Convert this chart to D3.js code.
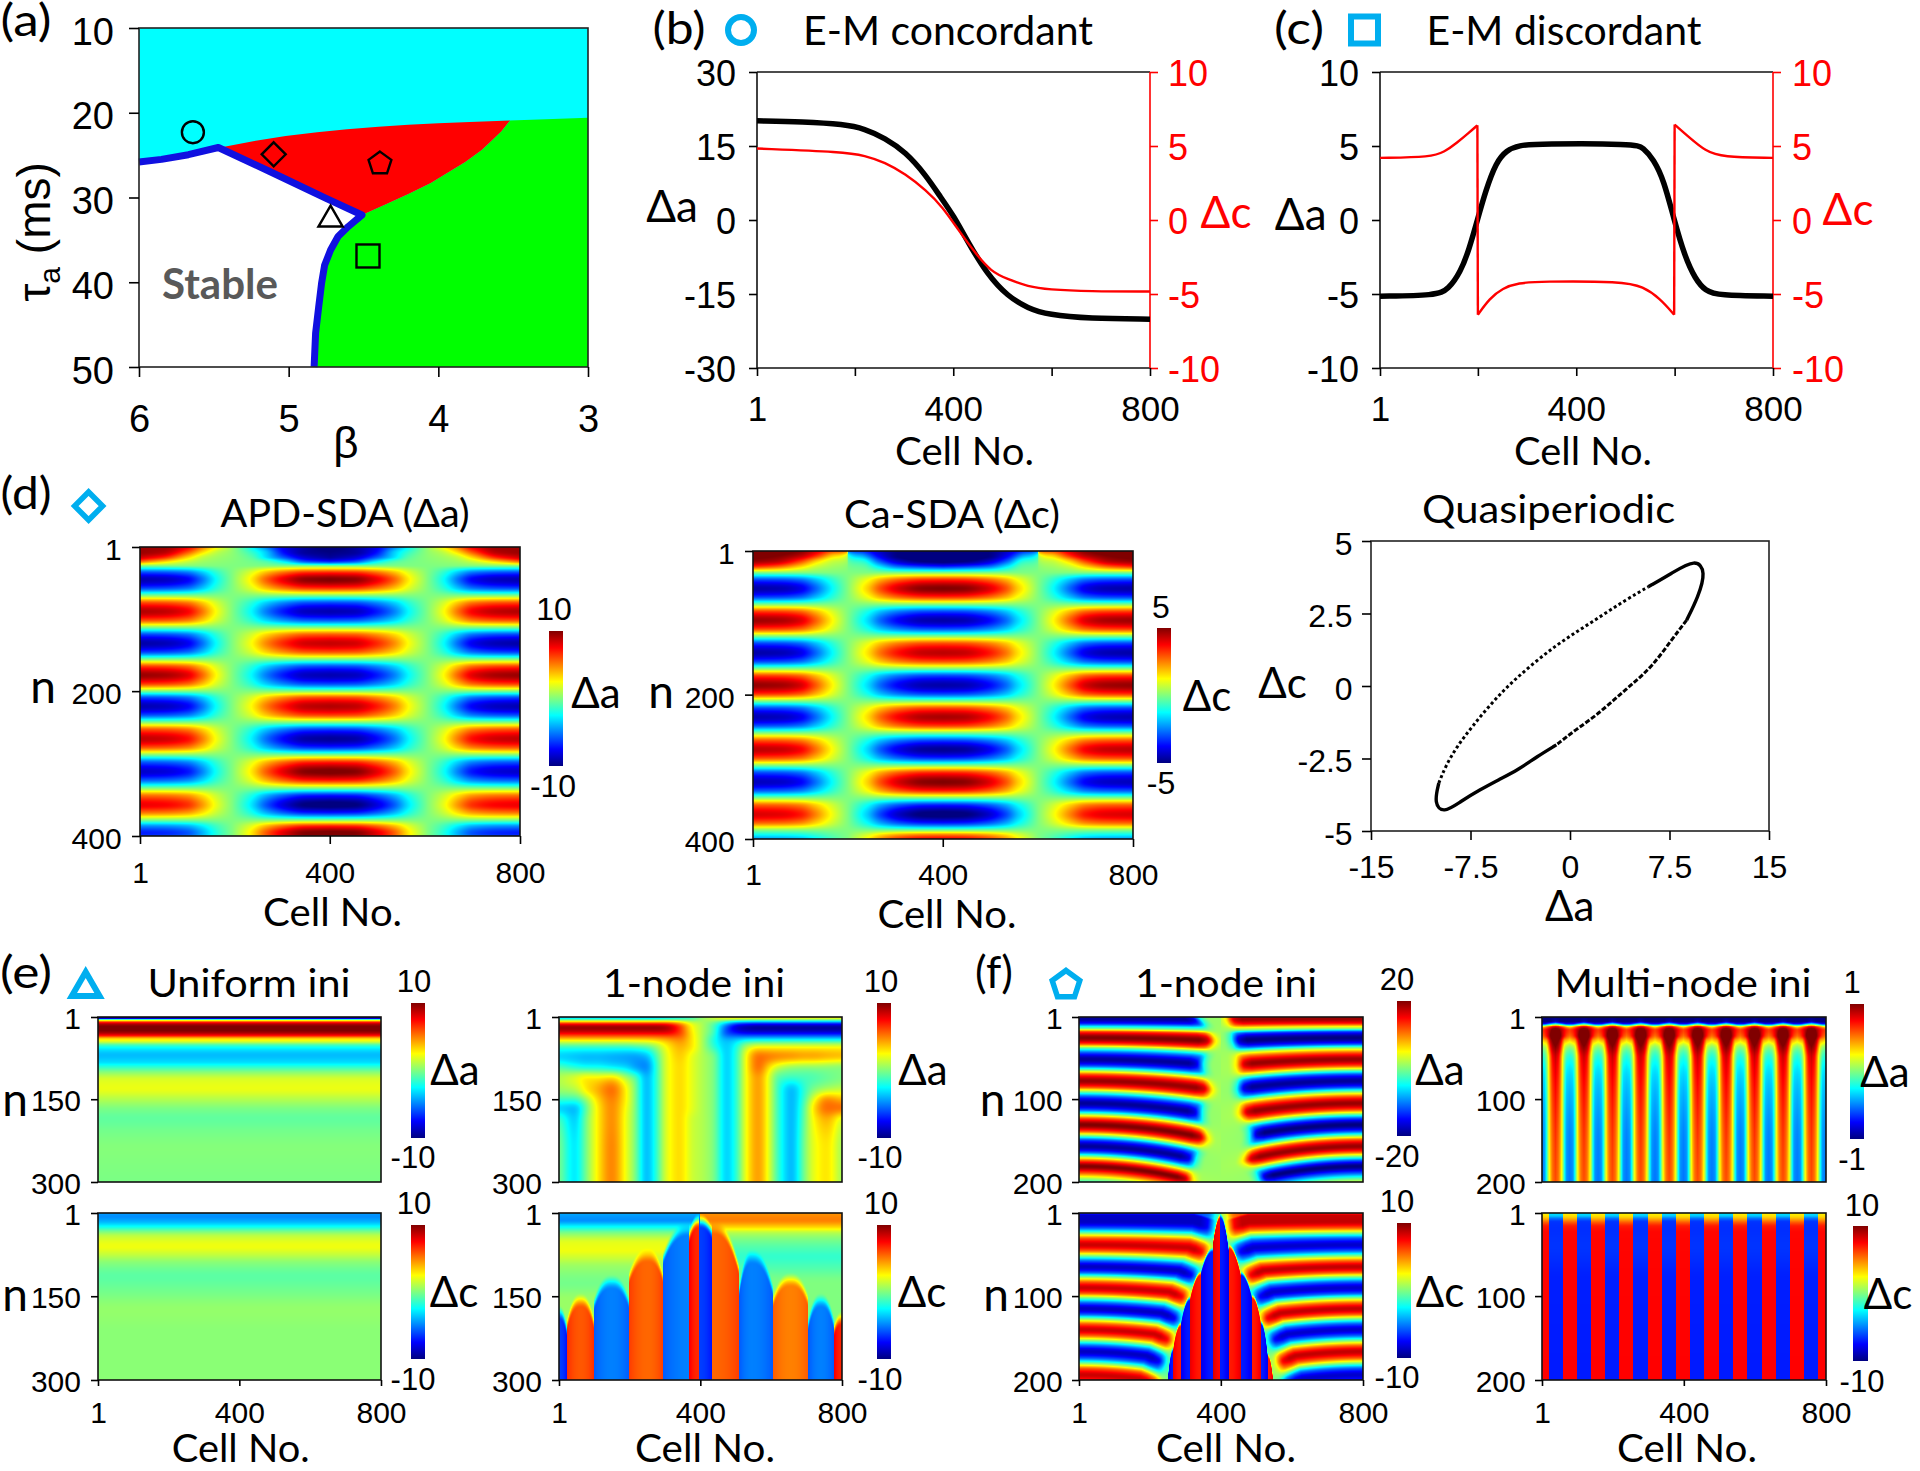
<!DOCTYPE html>
<html><head><meta charset="utf-8">
<style>html,body{margin:0;background:#fff}svg{display:block}</style>
<script src="https://cdn.jsdelivr.net/npm/d3@7"></script></head>
<body><svg id="c" width="1920" height="1471" xmlns="http://www.w3.org/2000/svg"></svg>
<script>
// ---------- (a) phase diagram, [beta, tau_a] ----------
const edgeLeft=[[6,25.8],[5.85,25.5],[5.67,24.95],[5.47,24.1]];
const edgeUpper=[[5.47,24.1],[5.13,26.9],[4.75,30.1],[4.51,32.07]];
const edgeLower=[[4.51,32.07],[4.6,33.4],[4.67,34.6],[4.72,36.2],[4.76,38],[4.78,40.1],[4.8,43],[4.82,46],[4.83,50]];
const edgeRedTop=[[5.43,24],[5.22,23.3],[5.02,22.75],[4.81,22.3],[4.61,21.95],[4.4,21.65],[4.2,21.42],[4,21.25],[3.79,21.1],[3.52,20.9]];
const edgeRedGreen=[[3.52,20.9],[3.58,22.2],[3.65,23.4],[3.71,24.4],[3.82,25.8],[3.93,27],[4.05,28.3],[4.2,29.6],[4.35,30.8],[4.51,32.07]];
const cornerGreen=[[3,20.6],[3,50]], cornerStable=[[6,50]];
const phaseMarkers=[["circle",5.64,22.3,11],["diamond",5.1,24.9,12],["pentagon",4.39,26,12],["triangle",4.72,32.6,14],["square",4.47,36.9,11.5]];
// ---------- (b) (c) profiles, [cell, value] ----------
const concordantA=[[1,20.1],[95,19.95],[178,19.4],[220,18.5],[261,16.6],[303,13.8],[345,9],[375,4.5],[400,1],[430,-4.5],[469,-11],[511,-15.5],[552,-17.9],[593,-19.2],[676,-20],[800,-20.1]];
const concordantC=[[1,4.83],[178,4.6],[220,4.35],[261,3.9],[303,3.1],[345,2],[378,.9],[411,-.7],[444,-2.2],[477,-3.5],[511,-4],[552,-4.5],[593,-4.7],[676,-4.83],[800,-4.83]];
const discordantA=[[1,-5.15],[115,-5.1],[140,-4.7],[165,-3.5],[182,-2],[199,0],[216,2],[237,3.9],[258,4.7],[283,5.05],[325,5.15],[519,5.15],[536,4.9],[557,4.1],[578,2.7],[599,0],[620,-2.4],[642,-4],[663,-4.8],[688,-5.1],[800,-5.15]];
const discordantC=[[1,4.2],[106,4.25],[132,4.6],[157,5.2],[182,5.9],[199,6.4],[200,-6.4],[224,-5.3],[250,-4.6],[283,-4.25],[325,-4.15],[494,-4.15],[536,-4.5],[570,-5.3],[599,-6.4],[600,6.45],[629,5.6],[663,4.65],[696,4.25],[800,4.2]];
// ---------- (d) quasiperiodic loop, [da, dc] ----------
const loopSolidTop=[[5.9,3.42],[7.64,3.88],[9.5,4.4],[10.25,3.95],[9.66,3.07],[8.79,2.27]];
const loopDashLower=[[8.79,2.27],[7.64,1.58],[6.19,.67],[4.75,.09],[3.31,-.48],[1.86,-1.06],[.42,-1.51],[-1.03,-2.03]];
const loopSolidBottom=[[-1.03,-2.03],[-2.47,-2.43],[-3.91,-2.89],[-5.36,-3.23],[-6.8,-3.58],[-8.24,-3.98],[-9.55,-4.4],[-10.25,-4.05],[-9.89,-3.35]];
const loopDotUpper=[[-9.89,-3.35],[-9.4,-2.78],[-8.53,-2.09],[-7.38,-1.4],[-5.93,-.6],[-4.49,.09],[-2.76,.78],[-1.03,1.41],[.71,1.93],[2.44,2.44],[4.17,2.96],[5.9,3.42]];
// ---------- (d) heat maps ----------
const d1TopCells=[1,50,100,135,165,195,235,265,305,350,400];
const d1TopN=[1,8,15,21,27];
const d1Top=[[9.5,9.5,8,5,2.5,.5,-2.5,-5,-8,-9.5,-10.5],[9.5,9,6,3,1.2,.3,-1.5,-3.5,-7.5,-9.5,-10],[8.5,7,3.5,1.3,.6,.2,-.8,-3,-6,-8.5,-9.5],[5.5,3.5,1.5,.6,.3,.1,-.3,-1,-3,-6,-7],[0,0,0,0,0,0,0,0,0,0,0]];
const d1ProfileCells=[1,50,100,130,160,195,235,265,305,350,400];
const d1Profile=[1,.97,.85,.6,.28,0,-.28,-.55,-.8,-.97,-1];
const d1N=[27,37,46,57,68,79,90,101,112,123,134,145,156,167,178,189,200,210,221,232,243,254,266,277,288,299,311,322,334,345,357,367,378,387,396,400];
const d1Edge=[0,-6.5,-9,-6.5,0,6.5,9,6.5,0,-6.6,-9.2,-6.7,0,6.8,9.5,6.8,0,-6.5,-9,-6.4,0,6.3,8.7,6.2,0,-6.1,-8.5,-6,0,5.6,7.8,5.5,0,-5,-7,-6.5];
const d1Centre=[0,7.2,10,7,0,-6.5,-9,-6.3,0,6.2,8.6,6.3,0,-6.5,-9,-6.5,0,6.5,9,6.7,0,-6.8,-9.5,-7,0,7.3,10.2,7.5,0,-7.5,-10.4,-7.5,0,7.3,10.3,10.2];
const d2TopCells=[1,50,100,135,165,199,201,235,265,305,350,400];
const d2TopN=[1,8,15,22,31];
const d2Top=[[5.3,5.3,5,4.2,3.2,2.6,-2.6,-3.5,-4.3,-5,-5.3,-5.5],[5.2,5,4.4,3.2,1.8,.7,-.9,-2.2,-3.8,-5,-5.4,-5.4],[4.8,4.5,3.2,1.7,.8,.3,-.3,-1,-2.8,-4.3,-5,-5.2],[3.5,3,1.8,.8,.4,.1,-.1,-.4,-1.5,-2.8,-3.3,-3.6],[0,0,0,0,0,0,0,0,0,0,0,0]];
const d2ProfileCells=[1,60,100,131,165,200,230,243,269,312,360,400];
const d2Profile=[1,.97,.87,.62,.3,0,-.25,-.35,-.6,-.85,-.98,-1];
const d2N=[31,42,53,64,75,86,97,108,119,130,142,153,164,175,187,198,209,220,231,242,253,265,276,287,298,309,321,332,343,354,366,377,388,394,400];
const d2Edge=[0,-3.3,-4.6,-3.3,0,3.4,4.7,3.4,0,-3.3,-4.6,-3.3,0,3.4,4.8,3.5,0,-3.3,-4.5,-3.2,0,3.2,4.4,3.2,0,-3.2,-4.4,-3.1,0,3,4.1,2.9,0,-1.2,-2.3];
const d2Centre=[0,3.6,5,3.5,0,-3.3,-4.6,-3.2,0,3.2,4.4,3.2,0,-3.3,-4.6,-3.3,0,3.3,4.6,3.4,0,-3.4,-4.8,-3.5,0,3.6,5,3.7,0,-3.7,-5.2,-3.7,0,2.5,4];
// ---------- (e) uniform ini ----------
const e1AN=[1,3,5,7,9,12,16,22,28,34,40,46,52,60,70,82,92,102,115,130,150,170,185,210,240,270,300];
const e1A=[-10,-9.5,-3,2,5,8,9.6,10.3,9.6,7.5,3.5,1.5,-1.2,-3,-3.8,-3.2,-1.5,.3,1.8,2.1,1,-.2,-.6,-.2,.1,0,-.1];
const e1CN=[1,7,16,25,34,43,61,73,91,115,139,175,216,300];
const e1C=[-4.4,-4.7,-4,-2.4,-.2,1.3,2.2,1.5,.1,-.7,-.3,.4,.2,.2];
// ---------- (e) 1-node ini, da ----------
const e2ACells=[1,46,79,107,150,192,216,248,277,305,343,376,404,437,474,507,526,564,597,620,658,695,719,757,800];
const e2AN=[1,6,12,22,30,40,55,73,91,112,133,151,166,187,241,300];
const e2A=[
[-9,-9,-9,-9,-9,-9,-9,-9,-8.5,-8,-6,-3,0,3,6,7,7,7,7,7,7,7,7,7,7],
[-2,-2,-2,-2,-2,-2,-2,-2,-2,-1.5,-1,-.5,.5,1,1.5,2,2,2,2,2,2,2,2,2,2],
[9,9,9,9,9,9,9,9,9,8.5,6,2.5,1,-1,-5,-8,-8.5,-9,-9,-9,-9,-9,-9,-9,-9],
[10,10,10,10,10,10,10,10,10,9.5,6.5,2.5,1,-1,-6,-9,-9.5,-10,-10,-10,-10,-10,-10,-10,-10],
[8,8,8,8,8,8,8,8,8,8,6.5,3,1,-1,-6.5,-7.5,-8,-8,-8,-8,-8,-8,-8,-8,-8],
[4,4,4,4,4,4,4,4,4.2,4.5,5,3,1,-2,-4,-3.8,-3.5,-3.5,-3.5,-3.5,-3.5,-3.5,-3.5,-3.5,-3.5],
[-1.5,-1.5,-1.5,-1.5,-1.5,-1.5,-1.2,-.8,.5,2.5,4,3,1,-1.5,-3.5,-1.5,.8,2.5,2.5,2.5,2.5,2.5,2.5,2.5,2.5],
[-3.5,-3.8,-4,-4,-4.2,-4.4,-4.5,-4,-1,2,3.5,2,1,0,-3.5,-1,2,5.5,5.2,5,4.8,4.5,4.5,4.2,4],
[-1,-2,-2.5,-2.5,-3,-3.5,-4.5,-5,-1.5,2,3.2,2,1,0,-3.5,-1,2,5.5,3,1.5,.5,.3,.3,.2,0],
[1,2,3,3,3.5,1,-.5,-4,-1.5,2,3.2,2,1,0,-3.5,-1,2,4.5,1.5,-1,-1.5,-1.2,-1,-.5,0],
[.5,1,3,4,5.5,2.5,0,-4,-1.5,2,3.2,2,1,0,-3.5,-1,2,4.5,1.5,-1.5,-4,-1.5,0,1,1.5],
[-1.5,-1.5,.5,3,5,2.5,0,-4,-1.5,2,3.2,2,1,0,-3.5,-1,2,4.5,1.5,-1.5,-4,-1,2,5,4],
[-3.5,-4,-.5,2.5,4.8,2.2,0,-4,-1.5,2,3.2,2,1,0,-3.5,-1,2,4.5,1.5,-1.5,-4,-.5,3,5.5,5.5],
[-1,-3.5,0,2.5,4.8,2,0,-4,-1.5,2,3.2,1.5,1,0,-3.5,-1,2,4.5,1.5,-1.5,-4,-.3,2.5,4,1.5],
[0,-3,0,2.5,5,2,0,-4,-1.5,2,3.2,1.5,1,0,-3.5,-1,2,4.5,1.5,-1.5,-4,0,2,3,.5],
[0,-3,0,2.5,5,2,0,-4,-1.5,2,3.2,1.5,1,0,-3.5,-1,2,4.5,1.5,-1.5,-4,0,2,3,.5]];
// ---------- (e) 1-node ini, dc: background by side + domes [from,to,apexCell,apexN,edgeN,value] ----------
const e2CN=[1,13,25,37,55,67,79,97,127,157,187,300];
const e2CLeft=[-4.2,-4.7,-2.6,0,2,2.2,1.6,.5,-.2,.5,.5,.5];
const e2CRight=[4.6,5,3.5,1,-.5,-1.1,-1.5,-1,0,0,0,0];
const e2CDomes=[[1,24,1,165,200,-6.3],[24,100,62,143,185,5.8],[100,200,150,110,150,-5],[200,294,252,62,100,5.5],[294,368,368,15,70,-5],[368,397,397,1,32,6.7],[397,434,397,1,25,-6.3],[434,510,434,12,90,5.5],[510,605,545,65,125,-5],[605,705,655,106,145,5],[705,777,740,143,185,-5],[777,800,800,175,198,6.8]];
// ---------- (f) 1-node ini ----------
const f1AN=[1,3,8,13,15,19,26,33,38,45,52,59,65,71,78,85,91,98,105,112,118,124,131,138,144,150,157,163,169,175,181,188,197,200];
const f1A=[-16,-19,-15,-4,0,13,20,13,0,-13,-19,-13,0,13,19,13,0,-13,-19,-13,0,13,20,13,0,-13,-19,-13,0,13,20,13,0,-3];
const f1TipN=[1,13,26,39,52,65,78,91,105,118,131,144,157,169,181,200];
const f1TipLeft=[60,32,16,30,46,34,24,36,50,42,36,50,68,72,78,86];
const f1TipRight=[12,20,28,35,42,42,42,46,50,64,78,70,62,82,102,112];
const f1FadeDist=[-100,-25,0,12,24,45];
const f1Fade=[0,.02,.25,.6,.87,1];
const f1CN=[1,4,11,18,25,32,39,45,52,59,65,71,77,84,90,96,102,109,115,121,127,134,140,146,153,160,166,173,180,187,194,200];
const f1C=[-6,-8.5,-8.7,-6.2,0,6.2,8.5,6.2,0,-6.2,-8.7,-6.2,0,6.2,8.5,6.2,0,-6.2,-8.7,-6.2,0,6.2,8.5,6.2,0,-6.2,-8.7,-6.2,0,6.2,8.5,7];
const f1CEdgeN=[1,40,70,100,130,160,190,200];
const f1CEdge=[15,30,60,90,115,140,165,170];
const f1CDomes=[[377,399,399,1,37,7.4],[399,422,399,1,41,-7],[422,456,422,37,71,7],[344,377,377,41,69,-7],[456,489,456,69,101,-7],[313,344,344,69,101,7],[287,313,313,99,132,-7],[489,513,489,97,130,7],[266,287,287,130,160,7],[513,533,513,128,172,-7],[252,266,266,160,190,-7],[533,547,533,168,195,7]];
// ---------- (f) multi-node ini: one 80-cell period ----------
const f2Dist=[0,8,14,20,26,32,40];
const f2AN=[1,6,9,11,13,17,23,30,38,50,70,100,150,200];
const f2A=[[-1,-1,-1,-1,-1,-1,-1],[-.9,-.95,-1,-1,-1,-1,-1],[-.3,-.4,-.5,-.6,-.7,-.75,-.75],[.3,.25,.1,0,-.1,-.2,-.25],[.85,.8,.7,.6,.5,.4,.3],[1.08,1.05,.95,.85,.75,.68,.62],[1.1,1.08,1,.85,.72,.62,.55],[1.08,1,.88,.62,.4,.35,.28],[.98,.9,.72,.42,.15,.05,0],[.85,.75,.55,.25,0,-.15,-.2],[.78,.68,.5,.2,-.1,-.3,-.33],[.72,.62,.45,.15,-.2,-.38,-.42],[.65,.55,.4,.12,-.25,-.45,-.5],[.6,.52,.35,.1,-.25,-.47,-.52]];
const f2StripeEdges=[1,20,59,99,139,178,219,258,299,338,378,418,458,498,539,579,619,658,698,737,777,801];
const f2RedN=[1,5,9,13,17,25,200];
const f2Red=[2.6,3.2,4.5,6,7,7.4,7.5];
const f2BlueN=[1,4,8,12,20,40,80,200];
const f2Blue=[-3,-3.5,-5.5,-6.5,-6.6,-6.5,-6.9,-7];
// ---------- shared tick labels ----------
const cellTicks=[1,400,800], cellTicksFive=[1,200,400,600,800];
const tauTicks=[10,20,30,40,50], betaTicks=[6,5,4,3];
const jetStops=[0,.125,.375,.625,.875,1], jetColors=["#000080","#0000ff","#00ffff","#ffff00","#ff0000","#800000"];

const svg=d3.select("#c");
const LATO="Lato, 'Liberation Sans', sans-serif", ARIAL="'Liberation Sans', Arial, sans-serif";
const BLUE="#00aeef";
const jet=d3.scaleLinear().domain(jetStops).range(jetColors).interpolate(d3.interpolateRgb).clamp(true);
const LUT=d3.range(1024).map(i=>{const c=d3.rgb(jet(i/1023));return [c.r,c.g,c.b];});

function curve(xs,ys){
  const n=xs.length,d=[],m=new Array(n);
  for(let i=0;i<n-1;i++)d[i]=(ys[i+1]-ys[i])/(xs[i+1]-xs[i]);
  m[0]=d[0];m[n-1]=d[n-2];
  for(let i=1;i<n-1;i++){
    if(d[i-1]*d[i]<=0){m[i]=0;continue;}
    const w1=2*(xs[i+1]-xs[i])+(xs[i]-xs[i-1]),w2=(xs[i+1]-xs[i])+2*(xs[i]-xs[i-1]);
    m[i]=(w1+w2)/(w1/d[i-1]+w2/d[i]);
  }
  return t=>{
    if(t<=xs[0])return ys[0];if(t>=xs[n-1])return ys[n-1];
    let i=d3.bisectRight(xs,t)-1;const h=xs[i+1]-xs[i],u=(t-xs[i])/h,u2=u*u,u3=u2*u;
    return (2*u3-3*u2+1)*ys[i]+(u3-2*u2+u)*h*m[i]+(-2*u3+3*u2)*ys[i+1]+(u3-u2)*h*m[i+1];
  };
}
function table(cols,rows,vals){
  const cc=vals.map(r=>curve(cols,r));
  return c=>curve(rows,cc.map(f=>f(c)));
}
function T(x,y,s,o={}){
  const t=svg.append("text").attr("x",x).attr("y",y).attr("text-anchor",o.anchor||"middle")
    .attr("font-family",o.font||LATO).attr("font-size",o.size||38).attr("font-weight",o.weight||400).attr("fill",o.fill||"#000").text(s);
  if(o.w)t.attr("textLength",o.w).attr("lengthAdjust","spacingAndGlyphs");
  return t;
}
function axis(kind,scale,vals,labels,o){
  const fn={left:d3.axisLeft,right:d3.axisRight,bottom:d3.axisBottom}[kind];
  const tick=o.tick||8,fs=o.fs||30,col=o.color||"#000";
  let pad;
  if(kind==="bottom")pad=o.label-o.pos-tick-.71*fs;
  else if(kind==="left")pad=o.pos-tick-(o.label??o.pos-tick);
  else pad=(o.label??o.pos+tick)-o.pos-tick;
  const g=svg.append("g").attr("transform",kind==="bottom"?`translate(0,${o.pos})`:`translate(${o.pos},0)`)
    .call(fn(scale).tickValues(vals).tickSize(tick).tickPadding(pad).tickFormat(d=>labels.includes(d)?String(d):""));
  g.select(".domain").remove();
  g.selectAll("line").attr("stroke",col).attr("stroke-width",o.sw||1.6);
  g.selectAll("text").attr("fill",col).attr("font-family",ARIAL).attr("font-size",fs);
  if(kind!=="bottom")g.selectAll("text").attr("y",o.shift??2);
  g.attr("font-family",null).attr("font-size",null);
  return g;
}
function frame(x,y,w,h,col){svg.append("rect").attr("x",x).attr("y",y).attr("width",w).attr("height",h).attr("fill","none").attr("stroke",col||"#111").attr("stroke-width",1.6);}
function marker(kind,cx,cy,r,col,sw,fill){
  let el;
  if(kind==="circle")el=svg.append("circle").attr("cx",cx).attr("cy",cy).attr("r",r);
  else if(kind==="square")el=svg.append("rect").attr("x",cx-r).attr("y",cy-r).attr("width",2*r).attr("height",2*r);
  else{
    const sides={diamond:4,pentagon:5,triangle:3}[kind];
    const pts=d3.range(sides).map(i=>{const a=-Math.PI/2+i*2*Math.PI/sides;return [cx+r*Math.cos(a),cy+r*Math.sin(a)];});
    el=svg.append("polygon").attr("points",pts.map(p=>p.join(",")).join(" "));
  }
  el.attr("fill",fill||"none").attr("stroke",col).attr("stroke-width",sw).attr("stroke-linejoin","miter");
}
function boxBlur(v,W,H,r){
  const tmp=new Float64Array(v.length);
  for(let pass=0;pass<2;pass++){
    for(let j=0;j<H;j++)for(let i=0;i<W;i++){let s=0;for(let k=-r;k<=r;k++)s+=v[j*W+Math.min(W-1,Math.max(0,i+k))];tmp[j*W+i]=s/(2*r+1);}
    for(let i=0;i<W;i++)for(let j=0;j<H;j++){let s=0;for(let k=-r;k<=r;k++)s+=tmp[Math.min(H-1,Math.max(0,j+k))*W+i];v[j*W+i]=s/(2*r+1);}
  }
}
function heat(box,nMax,dom,field){
  const x=d3.scaleLinear([1,800],[box.l,box.r]),y=d3.scaleLinear([1,nMax],[box.t,box.b]);
  const W=box.r-box.l,H=box.b-box.t,cv=document.createElement("canvas");cv.width=W;cv.height=H;
  const ctx=cv.getContext("2d"),img=ctx.createImageData(W,H),color=d3.scaleLinear([dom[0],dom[1]],[0,1023]).clamp(true);
  const v=new Float64Array(W*H);
  for(let i=0;i<W;i++){
    const col=field(x.invert(box.l+i+.5));
    for(let j=0;j<H;j++)v[j*W+i]=col(y.invert(box.t+j+.5));
  }
  if(box.blur)boxBlur(v,W,H,box.blur);
  for(let q=0;q<W*H;q++){
    const c=LUT[Math.round(color(v[q]))];
    img.data[4*q]=c[0];img.data[4*q+1]=c[1];img.data[4*q+2]=c[2];img.data[4*q+3]=255;
  }
  ctx.putImageData(img,0,0);
  svg.append("image").attr("x",box.l).attr("y",box.t).attr("width",W).attr("height",H).attr("href",cv.toDataURL());
  frame(box.l,box.t,W,H);
  return {x,y};
}
const defs=svg.append("defs");
const grad=defs.append("linearGradient").attr("id","jet").attr("x1",0).attr("x2",0).attr("y1",1).attr("y2",0);
jetStops.forEach((s,i)=>grad.append("stop").attr("offset",s).attr("stop-color",jetColors[i]));
function colorbar(x0,x1,y0,y1){svg.append("rect").attr("x",x0).attr("y",y0).attr("width",x1-x0).attr("height",y1-y0).attr("fill","url(#jet)");}
function domed(bg,domes,W,power){
  return c=>{
    const b=bg(c),d=domes.find(q=>c>=q[0]&&c<q[1]);
    if(!d)return b;
    const u=c<d[2]?(d[2]-c)/(d[2]-d[0]):(c-d[2])/(d[1]-d[2]);
    const top=d[3]+(d[4]-d[3])*Math.pow(u,power),val=d[5]*(1+.15*u*u);
    return n=>{let t=(n-top)/W;t=t<0?0:t>1?1:t;t=t*t*(3-2*t);return b(n)*(1-t)+val*t;};
  };
}

// ================ (a) ================
{
  const x=d3.scaleLinear([6,3],[139,588]),y=d3.scaleLinear([10,50],[28,367]);
  const ln=d3.line().x(d=>x(d[0])).y(d=>y(d[1]));
  svg.append("rect").attr("x",x(6)).attr("y",y(10)).attr("width",x(3)-x(6)).attr("height",y(50)-y(10)).attr("fill","#00ffff");
  svg.append("path").attr("d",ln([...cornerGreen,...edgeLower.slice().reverse(),...edgeRedGreen.slice().reverse()])+"Z").attr("fill","#00ff00");
  svg.append("path").attr("d",ln([...edgeRedTop,...edgeRedGreen,...edgeUpper.slice().reverse()])+"Z").attr("fill","#ff0000");
  svg.append("path").attr("d",ln([...edgeLeft,...edgeUpper,...edgeLower,...cornerStable])+"Z").attr("fill","#fff");
  svg.append("path").attr("d",ln([...edgeLeft,...edgeUpper,...edgeLower])).attr("fill","none").attr("stroke","#1010e0").attr("stroke-width",7).attr("stroke-linejoin","round");
  frame(139,28,449,339,"#222");
  axis("left",y,tauTicks,tauTicks,{pos:139,tick:10,fs:38,label:114,shift:4});
  axis("bottom",x,betaTicks,betaTicks,{pos:367,tick:10,fs:38,label:432});
  phaseMarkers.forEach(m=>marker(m[0],x(m[1]),y(m[2]),m[3],"#000",2.4));
  T(26,36,"(a)",{size:44,w:51});
  T(346,458,"β",{font:ARIAL,size:44});
  T(220,299,"Stable",{weight:700,size:42,fill:"#595959",w:116});
  const t=svg.append("text").attr("transform","translate(50,232) rotate(-90)").attr("text-anchor","middle").attr("font-family",ARIAL).attr("font-size",46);
  t.append("tspan").text("τ");t.append("tspan").attr("font-size",30).attr("dy",10).text("a");t.append("tspan").attr("dy",-10).text(" (ms)");
}
// ================ (b) (c) ================
function smooth(data,xs,ys,col,sw){
  const ln=d3.line().x(d=>xs(d[0])).y(d=>ys(d[1])).curve(d3.curveBasis);
  const parts=[[]];
  data.forEach((p,i)=>{if(i&&p[0]-data[i-1][0]<=1)parts.push([]);parts[parts.length-1].push(p);});
  parts.forEach((seg,i)=>{
    svg.append("path").attr("d",ln(seg)).attr("fill","none").attr("stroke",col).attr("stroke-width",sw);
    if(i)svg.append("line").attr("x1",xs(parts[i-1].at(-1)[0])).attr("x2",xs(seg[0][0])).attr("y1",ys(parts[i-1].at(-1)[1])).attr("y2",ys(seg[0][1])).attr("stroke",col).attr("stroke-width",sw);
  });
}
function profile(p){
  const x=d3.scaleLinear([1,800],[p.l,p.r]),yA=d3.scaleLinear(p.domA,[368,72]),yC=d3.scaleLinear([-10,10],[368,72]);
  svg.append("line").attr("x1",p.l).attr("x2",p.r).attr("y1",72).attr("y2",72).attr("stroke","#111").attr("stroke-width",1.6);
  svg.append("line").attr("x1",p.l).attr("x2",p.r).attr("y1",368).attr("y2",368).attr("stroke","#111").attr("stroke-width",1.6);
  svg.append("line").attr("x1",p.l).attr("x2",p.l).attr("y1",72).attr("y2",368).attr("stroke","#111").attr("stroke-width",1.6);
  svg.append("line").attr("x1",p.r).attr("x2",p.r).attr("y1",72).attr("y2",368).attr("stroke","#f00").attr("stroke-width",1.6);
  axis("left",yA,p.ticksA,p.ticksA,{pos:p.l,tick:8,fs:36,label:p.lab});
  axis("right",yC,[-10,-5,0,5,10],[-10,-5,0,5,10],{pos:p.r,tick:8,fs:36,label:p.labR,color:"#f00"});
  axis("bottom",x,cellTicksFive,cellTicks,{pos:368,tick:8,fs:35,label:421});
  smooth(p.a,x,yA,"#000",5.5);
  smooth(p.c,x,yC,"#f00",2.4);
}
profile({l:757,r:1150,domA:[-30,30],ticksA:[-30,-15,0,15,30],lab:736,labR:1168,a:concordantA,c:concordantC});
profile({l:1380,r:1773,domA:[-10,10],ticksA:[-10,-5,0,5,10],lab:1359,labR:1792,a:discordantA,c:discordantC});
T(679,44,"(b)",{size:44,w:53});
marker("circle",741,30,13,BLUE,6);
T(948,45,"E-M concordant",{size:40,w:290});
T(964.5,465,"Cell No.",{w:139});
T(672,222,"Δa",{size:44});
T(1226,228,"Δc",{size:44,fill:"#f00"});
T(1299,44,"(c)",{size:44,w:50});
marker("square",1364.5,30,13.5,BLUE,6);
T(1564,45,"E-M discordant",{size:40,w:275});
T(1583,465,"Cell No.",{w:138});
T(1300.7,230,"Δa",{size:44});
T(1848,225,"Δc",{size:44,fill:"#f00"});

// ================ (d) ================
function sda(top,prof,edge,centre,topEnd){
  return c=>{
    const m=c>400.5?801-c:c,t=top(m),p=prof(m);
    return n=>n<topEnd?t(n):(p>0?p*edge(n):-p*centre(n));
  };
}
{
  const box={l:140,r:520,t:547,b:836};
  const s=heat(box,400,[-10,10],sda(table(d1TopCells,d1TopN,d1Top),curve(d1ProfileCells,d1Profile),curve(d1N,d1Edge),curve(d1N,d1Centre),27));
  axis("left",s.y,[1,200,400],[1,200,400],{pos:box.l,tick:8,fs:30,label:121.6,shift:3});
  axis("bottom",s.x,cellTicks,cellTicks,{pos:box.b,tick:8,fs:30,label:883});
  colorbar(549,563,631,766);
  T(554,620,"10",{font:ARIAL,size:32});T(553,797,"-10",{font:ARIAL,size:32});
  T(596,708,"Δa",{size:42});
  T(345,527,"APD-SDA (Δa)",{w:249});T(43,703,"n",{size:46});T(332.6,926,"Cell No.",{w:139});
  T(26,509,"(d)",{size:44,w:51});marker("diamond",88.6,506,14,BLUE,5.5);
}
{
  const box={l:753,r:1133,t:551,b:839};
  const s=heat(box,400,[-5,5],sda(table(d2TopCells,d2TopN,d2Top),curve(d2ProfileCells,d2Profile),curve(d2N,d2Edge),curve(d2N,d2Centre),31));
  axis("left",s.y,[1,200,400],[1,200,400],{pos:box.l,tick:8,fs:30,label:734.7,shift:3});
  axis("bottom",s.x,cellTicks,cellTicks,{pos:box.b,tick:8,fs:30,label:885});
  colorbar(1157,1171,628,763);
  T(1161,618,"5",{font:ARIAL,size:32});T(1161,794,"-5",{font:ARIAL,size:32});
  T(1207,711,"Δc",{size:42});
  T(952,528,"Ca-SDA (Δc)",{w:216});T(661,708,"n",{size:46});T(947,928,"Cell No.",{w:139});
}
{
  const x=d3.scaleLinear([-15,15],[1371,1769]),y=d3.scaleLinear([-5,5],[831,541]);
  frame(1371,541,398,290,"#222");
  axis("left",y,[-5,-2.5,0,2.5,5],[-5,-2.5,0,2.5,5],{pos:1371,tick:9,fs:32,label:1352.6,shift:3});
  axis("bottom",x,[-15,-7.5,0,7.5,15],[-15,-7.5,0,7.5,15],{pos:831,tick:9,fs:32,label:878});
  const ln=d3.line().x(d=>x(d[0])).y(d=>y(d[1])).curve(d3.curveBasis);
  [[loopSolidTop,null,3.4],[loopDashLower,"5 2",3],[loopSolidBottom,null,3.4],[loopDotUpper,"3 2.6",3]].forEach(a=>{
    const p=svg.append("path").attr("d",ln(a[0])).attr("fill","none").attr("stroke","#000").attr("stroke-width",a[2]);
    if(a[1])p.attr("stroke-dasharray",a[1]);
  });
  T(1548.6,523,"Quasiperiodic",{w:253});T(1569.6,921,"Δa",{size:42});T(1282.5,698,"Δc",{size:42});
}

// ================ (e) (f) ================
function pair(cfg){
  const up={l:cfg.l,r:cfg.r,t:1017,b:1182,blur:cfg.blurA},lo={l:cfg.l,r:cfg.r,t:1213,b:1380};
  const s1=heat(up,cfg.nMax,cfg.domA,cfg.fA),s2=heat(lo,cfg.nMax,cfg.domC,cfg.fC);
  const yT=[1,cfg.nMax/2,cfg.nMax];
  axis("left",s1.y,yT,yT,{pos:cfg.l,tick:7,fs:30,label:cfg.lab});
  axis("left",s2.y,yT,yT,{pos:cfg.l,tick:7,fs:30,label:cfg.lab});
  axis("bottom",s2.x,cellTicks,cellTicks,{pos:1380,tick:6,fs:30,label:1423});
}
const sideBg=(L,R,split)=>c=>(c<split?L:R);
pair({l:98,r:381,nMax:300,lab:81,domA:[-10,10],domC:[-10,10],
  fA:(f=>c=>f)(curve(e1AN,e1A)),fC:(f=>c=>f)(curve(e1CN,e1C))});
pair({l:559,r:842,nMax:300,lab:542,domA:[-10,10],domC:[-10,10],blurA:3,
  fA:table(e2ACells,e2AN,e2A),
  fC:domed(sideBg(curve(e2CN,e2CLeft),curve(e2CN,e2CRight),400),e2CDomes,28,2.5)});
// f1 upper
{
  const wave=curve(f1AN,f1A),tipL=curve(f1TipN,f1TipLeft),tipR=curve(f1TipN,f1TipRight),fade=curve(f1FadeDist,f1Fade);
  var f1Afield=c=>{const d=Math.abs(c-400.5),left=c<400.5,side=left?1:-1,tip=left?tipL:tipR,k=(1-d/400)*(1-d/400);
    return n=>{const nw=n-25*k*(n/181),q=fade(d-tip(nw));return side*wave(nw)*q+1.2*(1-q);};};
}
// f1 lower
{
  const wave=curve(f1CN,f1C),edge=curve(f1CEdgeN,f1CEdge),fade=curve(f1FadeDist,f1Fade);
  const bg=c=>{const d=Math.abs(c-400.5),side=c<400.5?1:-1,k=(1-d/400)*(1-d/400);
    return n=>{const e=d-edge(n),bend=e<60?Math.max(0,(60-e)/60*6):0,nw=n-25*k*(n/194)-bend;
      return side*wave(nw)*fade(e+5);};};
  var f1Cfield=domed(bg,f1CDomes,7,2);
}
pair({l:1079,r:1363,nMax:200,lab:1062.7,domA:[-20,20],domC:[-10,10],fA:f1Afield,fC:f1Cfield});
// f2
{
  const tile=table(f2Dist,f2AN,f2A),red=curve(f2RedN,f2Red),blue=curve(f2BlueN,f2Blue);
  var f2Afield=c=>{const p=((c-39)%80+80)%80;return tile(Math.min(p,80-p));};
  var f2Cfield=c=>(d3.bisectRight(f2StripeEdges,c)-1)%2===0?red:blue;
}
pair({l:1542,r:1826,nMax:200,lab:1525.7,domA:[-1,1],domC:[-10,10],fA:f2Afield,fC:f2Cfield});

const L30={font:ARIAL,size:31};
T(26,988,"(e)",{size:44,w:52});marker("triangle",85.7,988,16,BLUE,6);
T(249,997,"Uniform ini",{w:203});
T(15,1116,"n",{size:46});T(15,1311,"n",{size:46});
colorbar(411,425,1003,1138);colorbar(411,425,1225,1359);
T(414,992,"10",L30);T(413,1168,"-10",L30);T(414,1214,"10",L30);T(413,1390,"-10",L30);
T(455,1085,"Δa",{size:42});T(454,1307,"Δc",{size:42});
T(240.7,1462,"Cell No.",{w:138});

T(694,997,"1-node ini",{w:182});
colorbar(877,891,1003,1138);colorbar(877,891,1225,1359);
T(881,992,"10",L30);T(880,1168,"-10",L30);T(881,1214,"10",L30);T(880,1390,"-10",L30);
T(923,1085,"Δa",{size:42});T(922,1307,"Δc",{size:42});
T(705,1462,"Cell No.",{w:140});

T(994,988,"(f)",{size:44,w:38});marker("pentagon",1066,985,14.5,BLUE,5.5);
T(1226,997,"1-node ini",{w:182});
T(992.7,1116,"n",{size:46});T(996,1311,"n",{size:46});
colorbar(1397,1411,1001,1136);colorbar(1397,1411,1223,1358);
T(1397,990,"20",L30);T(1397,1167,"-20",L30);T(1397,1212,"10",L30);T(1397,1388,"-10",L30);
T(1440,1085,"Δa",{size:42});T(1440,1307,"Δc",{size:42});
T(1226,1462,"Cell No.",{w:140});

T(1683,997,"Multi-node ini",{w:257});
colorbar(1850,1864,1004,1139);colorbar(1853,1868,1226,1361);
T(1852,993,"1",L30);T(1852,1170,"-1",L30);T(1862,1216,"10",L30);T(1862,1392,"-10",L30);
T(1885,1087,"Δa",{size:42});T(1888,1309,"Δc",{size:42});
T(1687,1462,"Cell No.",{w:140});
</script></body></html>
